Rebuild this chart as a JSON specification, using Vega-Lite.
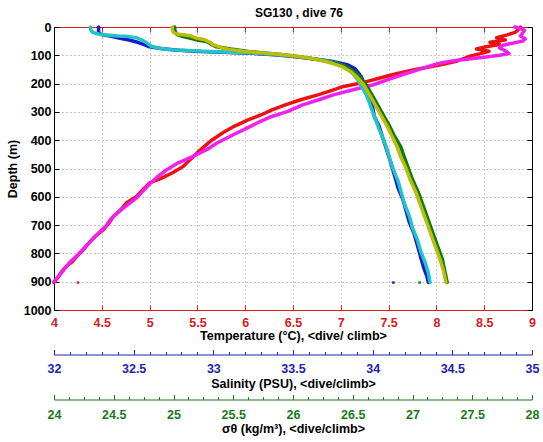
{
  "$schema": "https://vega.github.io/schema/vega-lite/v6.json",
  "width": 478,
  "height": 283,
  "autosize": "none",
  "padding": {"left": 54, "top": 27, "right": 11, "bottom": 132},
  "background": "white",
  "title": {"text": "SG130 , dive 76", "fontSize": 12, "font": "Liberation Sans", "fontWeight": "bold", "color": "black", "anchor": "middle", "offset": 1, "dx": 6},
  "config": {
    "view": {"stroke": null},
    "axis": {"labelFont": "Liberation Sans", "titleFont": "Liberation Sans", "labelFontWeight": "bold", "titleFontWeight": "bold", "labelFontSize": 12.5, "titleFontSize": 12.5, "titleColor": "black", "labelFlush": false, "labelOverlap": false, "domainWidth": 1, "tickWidth": 1}
  },
  "datasets": {
    "temp": [
      {"c":"dive","d":0,"v":8.88},{"c":"dive","d":8,"v":8.86},{"c":"dive","d":18,"v":8.83},{"c":"dive","d":28,"v":8.74},{"c":"dive","d":38,"v":8.63},{"c":"dive","d":46,"v":8.72},{"c":"dive","d":54,"v":8.56},{"c":"dive","d":62,"v":8.66},{"c":"dive","d":70,"v":8.52},{"c":"dive","d":78,"v":8.42},{"c":"dive","d":86,"v":8.55},{"c":"dive","d":94,"v":8.46},{"c":"dive","d":102,"v":8.36},{"c":"dive","d":110,"v":8.30},{"c":"dive","d":120,"v":8.22},{"c":"dive","d":135,"v":8.02},{"c":"dive","d":150,"v":7.78},{"c":"dive","d":165,"v":7.58},{"c":"dive","d":180,"v":7.41},{"c":"dive","d":195,"v":7.25},{"c":"dive","d":210,"v":7.03},{"c":"dive","d":225,"v":6.90},{"c":"dive","d":240,"v":6.76},{"c":"dive","d":257,"v":6.58},{"c":"dive","d":275,"v":6.42},{"c":"dive","d":293,"v":6.28},{"c":"dive","d":310,"v":6.17},{"c":"dive","d":328,"v":6.03},{"c":"dive","d":350,"v":5.89},{"c":"dive","d":373,"v":5.77},{"c":"dive","d":400,"v":5.65},{"c":"dive","d":420,"v":5.58},{"c":"dive","d":444,"v":5.50},{"c":"dive","d":470,"v":5.42},{"c":"dive","d":493,"v":5.35},{"c":"dive","d":515,"v":5.24},{"c":"dive","d":535,"v":5.12},{"c":"dive","d":551,"v":5.00},{"c":"dive","d":575,"v":4.93},{"c":"dive","d":600,"v":4.86},{"c":"dive","d":621,"v":4.76},{"c":"dive","d":645,"v":4.70},{"c":"dive","d":670,"v":4.62},{"c":"dive","d":695,"v":4.57},{"c":"dive","d":715,"v":4.52},{"c":"dive","d":740,"v":4.43},{"c":"dive","d":765,"v":4.36},{"c":"dive","d":786,"v":4.31},{"c":"dive","d":810,"v":4.24},{"c":"dive","d":830,"v":4.19},{"c":"dive","d":845,"v":4.13},{"c":"dive","d":865,"v":4.08},{"c":"dive","d":885,"v":4.04},{"c":"dive","d":903,"v":4.00},
      {"c":"climb","d":0,"v":8.82},{"c":"climb","d":5,"v":8.88},{"c":"climb","d":12,"v":8.92},{"c":"climb","d":22,"v":8.90},{"c":"climb","d":32,"v":8.88},{"c":"climb","d":42,"v":8.93},{"c":"climb","d":50,"v":8.90},{"c":"climb","d":58,"v":8.78},{"c":"climb","d":66,"v":8.68},{"c":"climb","d":74,"v":8.66},{"c":"climb","d":84,"v":8.72},{"c":"climb","d":94,"v":8.76},{"c":"climb","d":100,"v":8.66},{"c":"climb","d":106,"v":8.52},{"c":"climb","d":112,"v":8.36},{"c":"climb","d":118,"v":8.20},{"c":"climb","d":126,"v":8.06},{"c":"climb","d":135,"v":7.96},{"c":"climb","d":150,"v":7.82},{"c":"climb","d":168,"v":7.65},{"c":"climb","d":185,"v":7.50},{"c":"climb","d":204,"v":7.34},{"c":"climb","d":220,"v":7.15},{"c":"climb","d":239,"v":6.93},{"c":"climb","d":257,"v":6.77},{"c":"climb","d":275,"v":6.60},{"c":"climb","d":299,"v":6.44},{"c":"climb","d":317,"v":6.27},{"c":"climb","d":335,"v":6.15},{"c":"climb","d":352,"v":6.05},{"c":"climb","d":380,"v":5.88},{"c":"climb","d":409,"v":5.71},{"c":"climb","d":433,"v":5.60},{"c":"climb","d":458,"v":5.45},{"c":"climb","d":480,"v":5.30},{"c":"climb","d":504,"v":5.18},{"c":"climb","d":530,"v":5.08},{"c":"climb","d":555,"v":5.00},{"c":"climb","d":580,"v":4.93},{"c":"climb","d":605,"v":4.86},{"c":"climb","d":630,"v":4.76},{"c":"climb","d":655,"v":4.67},{"c":"climb","d":680,"v":4.59},{"c":"climb","d":705,"v":4.54},{"c":"climb","d":730,"v":4.46},{"c":"climb","d":755,"v":4.39},{"c":"climb","d":780,"v":4.32},{"c":"climb","d":805,"v":4.25},{"c":"climb","d":830,"v":4.17},{"c":"climb","d":855,"v":4.11},{"c":"climb","d":880,"v":4.05},{"c":"climb","d":900,"v":4.00}
    ],
    "sal": [
      {"c":"dive","d":0,"v":32.28},{"c":"dive","d":10,"v":32.28},{"c":"dive","d":20,"v":32.28},{"c":"dive","d":27,"v":32.30},{"c":"dive","d":33,"v":32.36},{"c":"dive","d":38,"v":32.40},{"c":"dive","d":46,"v":32.47},{"c":"dive","d":55,"v":32.53},{"c":"dive","d":63,"v":32.57},{"c":"dive","d":70,"v":32.60},{"c":"dive","d":77,"v":32.68},{"c":"dive","d":82,"v":32.78},{"c":"dive","d":87,"v":32.92},{"c":"dive","d":90,"v":33.10},{"c":"dive","d":93,"v":33.25},{"c":"dive","d":97,"v":33.36},{"c":"dive","d":101,"v":33.44},{"c":"dive","d":108,"v":33.56},{"c":"dive","d":115,"v":33.66},{"c":"dive","d":122,"v":33.75},{"c":"dive","d":133,"v":33.84},{"c":"dive","d":148,"v":33.89},{"c":"dive","d":162,"v":33.91},{"c":"dive","d":177,"v":33.93},{"c":"dive","d":192,"v":33.94},{"c":"dive","d":210,"v":33.95},{"c":"dive","d":230,"v":33.97},{"c":"dive","d":257,"v":33.98},{"c":"dive","d":285,"v":34.00},{"c":"dive","d":316,"v":34.01},{"c":"dive","d":350,"v":34.04},{"c":"dive","d":386,"v":34.06},{"c":"dive","d":420,"v":34.08},{"c":"dive","d":455,"v":34.10},{"c":"dive","d":492,"v":34.12},{"c":"dive","d":530,"v":34.14},{"c":"dive","d":570,"v":34.16},{"c":"dive","d":610,"v":34.19},{"c":"dive","d":650,"v":34.21},{"c":"dive","d":690,"v":34.23},{"c":"dive","d":730,"v":34.26},{"c":"dive","d":770,"v":34.28},{"c":"dive","d":810,"v":34.30},{"c":"dive","d":850,"v":34.32},{"c":"dive","d":880,"v":34.34},{"c":"dive","d":903,"v":34.35},
      {"c":"climb","d":0,"v":32.23},{"c":"climb","d":10,"v":32.23},{"c":"climb","d":18,"v":32.24},{"c":"climb","d":24,"v":32.27},{"c":"climb","d":28,"v":32.33},{"c":"climb","d":32,"v":32.40},{"c":"climb","d":34,"v":32.47},{"c":"climb","d":38,"v":32.52},{"c":"climb","d":46,"v":32.55},{"c":"climb","d":55,"v":32.58},{"c":"climb","d":68,"v":32.61},{"c":"climb","d":76,"v":32.67},{"c":"climb","d":80,"v":32.74},{"c":"climb","d":85,"v":32.90},{"c":"climb","d":88,"v":33.05},{"c":"climb","d":92,"v":33.25},{"c":"climb","d":97,"v":33.38},{"c":"climb","d":102,"v":33.48},{"c":"climb","d":110,"v":33.60},{"c":"climb","d":118,"v":33.70},{"c":"climb","d":127,"v":33.77},{"c":"climb","d":140,"v":33.83},{"c":"climb","d":155,"v":33.86},{"c":"climb","d":168,"v":33.88},{"c":"climb","d":190,"v":33.91},{"c":"climb","d":210,"v":33.93},{"c":"climb","d":240,"v":33.96},{"c":"climb","d":268,"v":33.98},{"c":"climb","d":300,"v":34.00},{"c":"climb","d":330,"v":34.02},{"c":"climb","d":360,"v":34.04},{"c":"climb","d":400,"v":34.07},{"c":"climb","d":433,"v":34.09},{"c":"climb","d":470,"v":34.11},{"c":"climb","d":504,"v":34.13},{"c":"climb","d":545,"v":34.16},{"c":"climb","d":586,"v":34.18},{"c":"climb","d":625,"v":34.20},{"c":"climb","d":668,"v":34.23},{"c":"climb","d":710,"v":34.25},{"c":"climb","d":751,"v":34.28},{"c":"climb","d":790,"v":34.30},{"c":"climb","d":833,"v":34.33},{"c":"climb","d":870,"v":34.35},{"c":"climb","d":903,"v":34.36}
    ],
    "sigma": [
      {"c":"dive","d":0,"v":25.01},{"c":"dive","d":10,"v":25.01},{"c":"dive","d":20,"v":25.02},{"c":"dive","d":27,"v":25.03},{"c":"dive","d":34,"v":25.08},{"c":"dive","d":43,"v":25.17},{"c":"dive","d":52,"v":25.28},{"c":"dive","d":62,"v":25.32},{"c":"dive","d":70,"v":25.36},{"c":"dive","d":78,"v":25.48},{"c":"dive","d":87,"v":25.64},{"c":"dive","d":93,"v":25.78},{"c":"dive","d":98,"v":25.92},{"c":"dive","d":105,"v":26.05},{"c":"dive","d":113,"v":26.18},{"c":"dive","d":122,"v":26.29},{"c":"dive","d":131,"v":26.38},{"c":"dive","d":140,"v":26.45},{"c":"dive","d":157,"v":26.51},{"c":"dive","d":175,"v":26.56},{"c":"dive","d":203,"v":26.61},{"c":"dive","d":232,"v":26.65},{"c":"dive","d":262,"v":26.69},{"c":"dive","d":292,"v":26.73},{"c":"dive","d":322,"v":26.77},{"c":"dive","d":352,"v":26.81},{"c":"dive","d":387,"v":26.85},{"c":"dive","d":422,"v":26.90},{"c":"dive","d":458,"v":26.93},{"c":"dive","d":493,"v":26.96},{"c":"dive","d":539,"v":27.00},{"c":"dive","d":586,"v":27.05},{"c":"dive","d":633,"v":27.09},{"c":"dive","d":680,"v":27.13},{"c":"dive","d":727,"v":27.17},{"c":"dive","d":774,"v":27.21},{"c":"dive","d":821,"v":27.25},{"c":"dive","d":862,"v":27.27},{"c":"dive","d":903,"v":27.29},
      {"c":"climb","d":0,"v":24.99},{"c":"climb","d":10,"v":24.99},{"c":"climb","d":20,"v":25.00},{"c":"climb","d":26,"v":25.04},{"c":"climb","d":28,"v":25.10},{"c":"climb","d":32,"v":25.15},{"c":"climb","d":39,"v":25.19},{"c":"climb","d":45,"v":25.26},{"c":"climb","d":55,"v":25.31},{"c":"climb","d":62,"v":25.33},{"c":"climb","d":74,"v":25.41},{"c":"climb","d":80,"v":25.48},{"c":"climb","d":86,"v":25.58},{"c":"climb","d":92,"v":25.75},{"c":"climb","d":98,"v":25.92},{"c":"climb","d":105,"v":26.06},{"c":"climb","d":112,"v":26.17},{"c":"climb","d":120,"v":26.26},{"c":"climb","d":130,"v":26.34},{"c":"climb","d":140,"v":26.41},{"c":"climb","d":157,"v":26.48},{"c":"climb","d":175,"v":26.53},{"c":"climb","d":203,"v":26.59},{"c":"climb","d":232,"v":26.63},{"c":"climb","d":262,"v":26.67},{"c":"climb","d":292,"v":26.71},{"c":"climb","d":322,"v":26.75},{"c":"climb","d":352,"v":26.79},{"c":"climb","d":387,"v":26.83},{"c":"climb","d":422,"v":26.87},{"c":"climb","d":458,"v":26.90},{"c":"climb","d":493,"v":26.94},{"c":"climb","d":539,"v":26.98},{"c":"climb","d":586,"v":27.03},{"c":"climb","d":633,"v":27.07},{"c":"climb","d":680,"v":27.11},{"c":"climb","d":727,"v":27.15},{"c":"climb","d":774,"v":27.19},{"c":"climb","d":821,"v":27.23},{"c":"climb","d":862,"v":27.26},{"c":"climb","d":903,"v":27.28}
    ],
    "stray": [
      {"var":"temp","d":903,"v":4.25},
      {"var":"sal","d":903,"v":34.13},
      {"var":"sigma","d":903,"v":27.06}
    ]
  },
  "layer": [
    {
      "data": {"name": "temp"},
      "transform": [{"filter": "datum.c === 'dive'"}],
      "mark": {"type": "line", "color": "#ee1111", "strokeWidth": 3.5, "strokeJoin": "round", "strokeCap": "round"},
      "encoding": {
        "x": {"field": "v", "type": "quantitative", "scale": {"domain": [4, 9], "nice": false, "zero": false},
          "axis": {"orient": "bottom", "values": [4, 4.5, 5, 5.5, 6, 6.5, 7, 7.5, 8, 8.5, 9], "format": "~g", "tickSize": -5, "labelPadding": 11, "domainColor": "#d42020", "tickColor": "#d42020", "labelColor": "#d42020", "grid": true, "gridColor": "#c08c8c", "gridDash": [1, 3], "title": "Temperature (°C), <dive/ climb>", "titlePadding": 1}},
        "y": {"field": "d", "type": "quantitative", "scale": {"domain": [0, 1000], "reverse": true, "nice": false, "zero": false},
          "axis": {"orient": "left", "values": [0, 100, 200, 300, 400, 500, 600, 700, 800, 900, 1000], "format": "d", "tickSize": -5, "labelPadding": 8, "domainColor": "black", "tickColor": "black", "labelColor": "black", "grid": true, "gridColor": "#8c8c8c", "gridDash": [1, 3], "title": "Depth (m)", "titlePadding": 4}},
        "order": {"field": "d", "type": "quantitative"}
      }
    },
    {
      "data": {"name": "temp"},
      "transform": [{"filter": "datum.c === 'climb'"}],
      "mark": {"type": "line", "color": "#f020f0", "strokeWidth": 3.5, "strokeJoin": "round", "strokeCap": "round"},
      "encoding": {
        "x": {"field": "v", "type": "quantitative", "scale": {"domain": [4, 9], "nice": false, "zero": false},
          "axis": {"orient": "top", "values": [4, 4.5, 5, 5.5, 6, 6.5, 7, 7.5, 8, 8.5, 9], "labels": false, "tickSize": -5, "domainColor": "#d42020", "tickColor": "#d42020", "grid": false, "title": null}},
        "y": {"field": "d", "type": "quantitative", "scale": {"domain": [0, 1000], "reverse": true, "nice": false, "zero": false},
          "axis": {"orient": "right", "values": [0, 100, 200, 300, 400, 500, 600, 700, 800, 900, 1000], "labels": false, "tickSize": -5, "domainColor": "black", "tickColor": "black", "grid": false, "title": null}},
        "order": {"field": "d", "type": "quantitative"}
      }
    },
    {
      "data": {"name": "stray"},
      "transform": [{"filter": "datum.var === 'temp'"}],
      "mark": {"type": "square", "color": "#ee1111", "size": 6, "opacity": 1},
      "encoding": {
        "x": {"field": "v", "type": "quantitative", "scale": {"domain": [4, 9], "nice": false, "zero": false}, "axis": null},
        "y": {"field": "d", "type": "quantitative", "scale": {"domain": [0, 1000], "reverse": true, "nice": false, "zero": false}, "axis": null}
      }
    },
    {
      "data": {"name": "sal"},
      "transform": [{"filter": "datum.c === 'dive'"}],
      "mark": {"type": "line", "color": "#1a1ad0", "strokeWidth": 3.5, "strokeJoin": "round", "strokeCap": "round"},
      "encoding": {
        "x": {"field": "v", "type": "quantitative", "scale": {"domain": [32, 35], "nice": false, "zero": false},
          "axis": {"orient": "bottom", "offset": 44.5, "values": [32, 32.1, 32.2, 32.3, 32.4, 32.5, 32.6, 32.7, 32.8, 32.9, 33, 33.1, 33.2, 33.3, 33.4, 33.5, 33.6, 33.7, 33.8, 33.9, 34, 34.1, 34.2, 34.3, 34.4, 34.5, 34.6, 34.7, 34.8, 34.9, 35], "format": "~g",
            "labelExpr": "abs(datum.value*2 - round(datum.value*2)) < 0.001 ? datum.label : ''",
            "tickSize": {"condition": {"test": "abs(datum.value*2 - round(datum.value*2)) < 0.001", "value": -5}, "value": -3},
            "labelPadding": 13, "domainColor": "#2424a8", "tickColor": "#2424a8", "labelColor": "#2424a8", "grid": false, "title": "Salinity (PSU), <dive/climb>", "titlePadding": 0.5}},
        "y": {"field": "d", "type": "quantitative", "scale": {"domain": [0, 1000], "reverse": true, "nice": false, "zero": false}, "axis": null},
        "order": {"field": "d", "type": "quantitative"}
      }
    },
    {
      "data": {"name": "sal"},
      "transform": [{"filter": "datum.c === 'climb'"}],
      "mark": {"type": "line", "color": "#22c4c8", "strokeWidth": 3.5, "strokeJoin": "round", "strokeCap": "round"},
      "encoding": {
        "x": {"field": "v", "type": "quantitative", "scale": {"domain": [32, 35], "nice": false, "zero": false}, "axis": null},
        "y": {"field": "d", "type": "quantitative", "scale": {"domain": [0, 1000], "reverse": true, "nice": false, "zero": false}, "axis": null},
        "order": {"field": "d", "type": "quantitative"}
      }
    },
    {
      "data": {"name": "stray"},
      "transform": [{"filter": "datum.var === 'sal'"}],
      "mark": {"type": "square", "color": "#1a1ad0", "size": 6, "opacity": 1},
      "encoding": {
        "x": {"field": "v", "type": "quantitative", "scale": {"domain": [32, 35], "nice": false, "zero": false}, "axis": null},
        "y": {"field": "d", "type": "quantitative", "scale": {"domain": [0, 1000], "reverse": true, "nice": false, "zero": false}, "axis": null}
      }
    },
    {
      "data": {"name": "sigma"},
      "transform": [{"filter": "datum.c === 'dive'"}],
      "mark": {"type": "line", "color": "#0f7a0f", "strokeWidth": 3.5, "strokeJoin": "round", "strokeCap": "round"},
      "encoding": {
        "x": {"field": "v", "type": "quantitative", "scale": {"domain": [24, 28], "nice": false, "zero": false},
          "axis": {"orient": "bottom", "offset": 89.5, "values": [24, 24.125, 24.25, 24.375, 24.5, 24.625, 24.75, 24.875, 25, 25.125, 25.25, 25.375, 25.5, 25.625, 25.75, 25.875, 26, 26.125, 26.25, 26.375, 26.5, 26.625, 26.75, 26.875, 27, 27.125, 27.25, 27.375, 27.5, 27.625, 27.75, 27.875, 28], "format": "~g",
            "labelExpr": "abs(datum.value*2 - round(datum.value*2)) < 0.001 ? datum.label : ''",
            "tickSize": {"condition": {"test": "abs(datum.value*2 - round(datum.value*2)) < 0.001", "value": -5}, "value": -3},
            "labelPadding": 13.5, "domainColor": "#1a7a1a", "tickColor": "#1a7a1a", "labelColor": "#1a7a1a", "grid": false, "title": "σθ (kg/m³), <dive/climb>", "titlePadding": 0}},
        "y": {"field": "d", "type": "quantitative", "scale": {"domain": [0, 1000], "reverse": true, "nice": false, "zero": false}, "axis": null},
        "order": {"field": "d", "type": "quantitative"}
      }
    },
    {
      "data": {"name": "sigma"},
      "transform": [{"filter": "datum.c === 'climb'"}],
      "mark": {"type": "line", "color": "#bcbc0c", "strokeWidth": 3.5, "strokeJoin": "round", "strokeCap": "round"},
      "encoding": {
        "x": {"field": "v", "type": "quantitative", "scale": {"domain": [24, 28], "nice": false, "zero": false}, "axis": null},
        "y": {"field": "d", "type": "quantitative", "scale": {"domain": [0, 1000], "reverse": true, "nice": false, "zero": false}, "axis": null},
        "order": {"field": "d", "type": "quantitative"}
      }
    },
    {
      "data": {"name": "stray"},
      "transform": [{"filter": "datum.var === 'sigma'"}],
      "mark": {"type": "square", "color": "#0f7a0f", "size": 6, "opacity": 1},
      "encoding": {
        "x": {"field": "v", "type": "quantitative", "scale": {"domain": [24, 28], "nice": false, "zero": false}, "axis": null},
        "y": {"field": "d", "type": "quantitative", "scale": {"domain": [0, 1000], "reverse": true, "nice": false, "zero": false}, "axis": null}
      }
    }
  ],
  "resolve": {"scale": {"x": "independent", "y": "independent"}, "axis": {"x": "independent", "y": "independent"}}
}
